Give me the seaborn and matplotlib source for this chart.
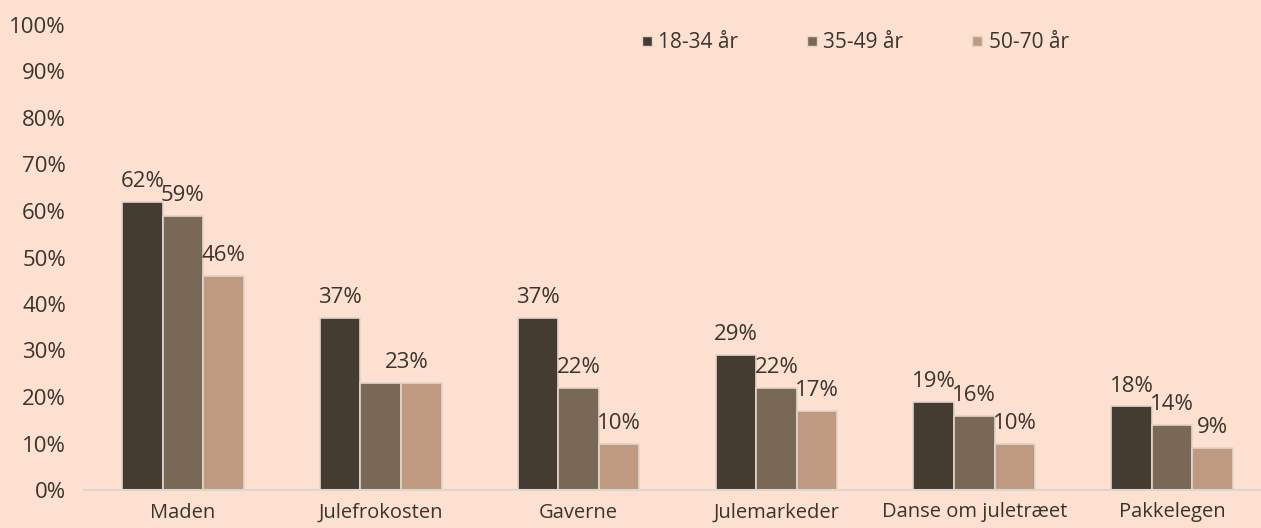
import matplotlib
matplotlib.use('Agg')
import matplotlib.pyplot as plt
import seaborn as sns
import pandas as pd
from matplotlib.lines import Line2D

categories = ['Maden', 'Julefrokosten', 'Gaverne', 'Julemarkeder',
              'Danse om juletræet', 'Pakkelegen']
groups = ['18-34 år', '35-49 år', '50-70 år']
vals_18_34 = [62, 37, 37, 29, 19, 18]
vals_35_49 = [59, 23, 22, 22, 16, 14]
vals_50_70 = [46, 23, 10, 17, 10, 9]
yticks = [0, 10, 20, 30, 40, 50, 60, 70, 80, 90, 100]

colors = ['#443b31', '#786855', '#bf9a80']
bg = '#fde0d0'
txt = '#3a342e'
FS = 16

df = pd.DataFrame({
    'cat': categories * 3,
    'group': [g for g in groups for _ in categories],
    'val': vals_18_34 + vals_35_49 + vals_50_70,
})

sns.set_theme(style='white')
plt.rcParams['font.family'] = ['Open Sans', 'DejaVu Sans']

fig = plt.figure(figsize=(12.61, 5.28), dpi=100)
fig.patch.set_facecolor(bg)
W, H = 1261, 528
ax = fig.add_axes([84 / W, 38 / H, (1271 - 84) / W, 465 / H])
ax.set_facecolor(bg)

sns.barplot(data=df, x='cat', y='val', hue='group', palette=colors,
            saturation=1, width=0.615, gap=0, edgecolor='#e2d6cc',
            linewidth=1.2, legend=False, ax=ax)

# label above each bar; where two neighbouring bars are equal only one label is shown
conts = ax.containers
for gi, cont in enumerate(conts):
    for ci, bar in enumerate(cont):
        h = bar.get_height()
        x = bar.get_x() + bar.get_width() / 2
        if gi + 1 < len(conts) and conts[gi + 1][ci].get_height() == h:
            continue
        if gi > 0 and conts[gi - 1][ci].get_height() == h:
            x -= bar.get_width() * 0.35
        ax.annotate(f'{h:.0f}%', (x, h), xytext=(0, 7), textcoords='offset points',
                    ha='center', va='bottom', fontsize=FS, color=txt)

ax.set_ylim(0, 100)
ax.set_xlim(-0.5, 5.5)
ax.set_yticks(yticks)
ax.set_yticklabels([f'{t}%' for t in yticks], fontsize=FS, color=txt)
ax.tick_params(axis='x', labelsize=14.5, labelcolor=txt, length=0, pad=9)
ax.tick_params(axis='y', length=0, pad=13)
ax.set_xlabel('')
ax.set_ylabel('')
for s in ['top', 'right', 'left']:
    ax.spines[s].set_visible(False)
ax.spines['bottom'].set_color('#ddd6d0')
ax.spines['bottom'].set_linewidth(1.5)

handles = [Line2D([0], [0], marker='s', linestyle='', markersize=7,
                  markerfacecolor=c, markeredgecolor='#e2d6cc') for c in colors]
fig.legend(handles, groups, loc='center', bbox_to_anchor=(853 / W, 1 - 43 / H),
           ncol=3, frameon=False, fontsize=15, handletextpad=0.1,
           columnspacing=3.1, handlelength=0.9, labelcolor=txt)

fig.savefig('out.png', dpi=100, facecolor=bg)
